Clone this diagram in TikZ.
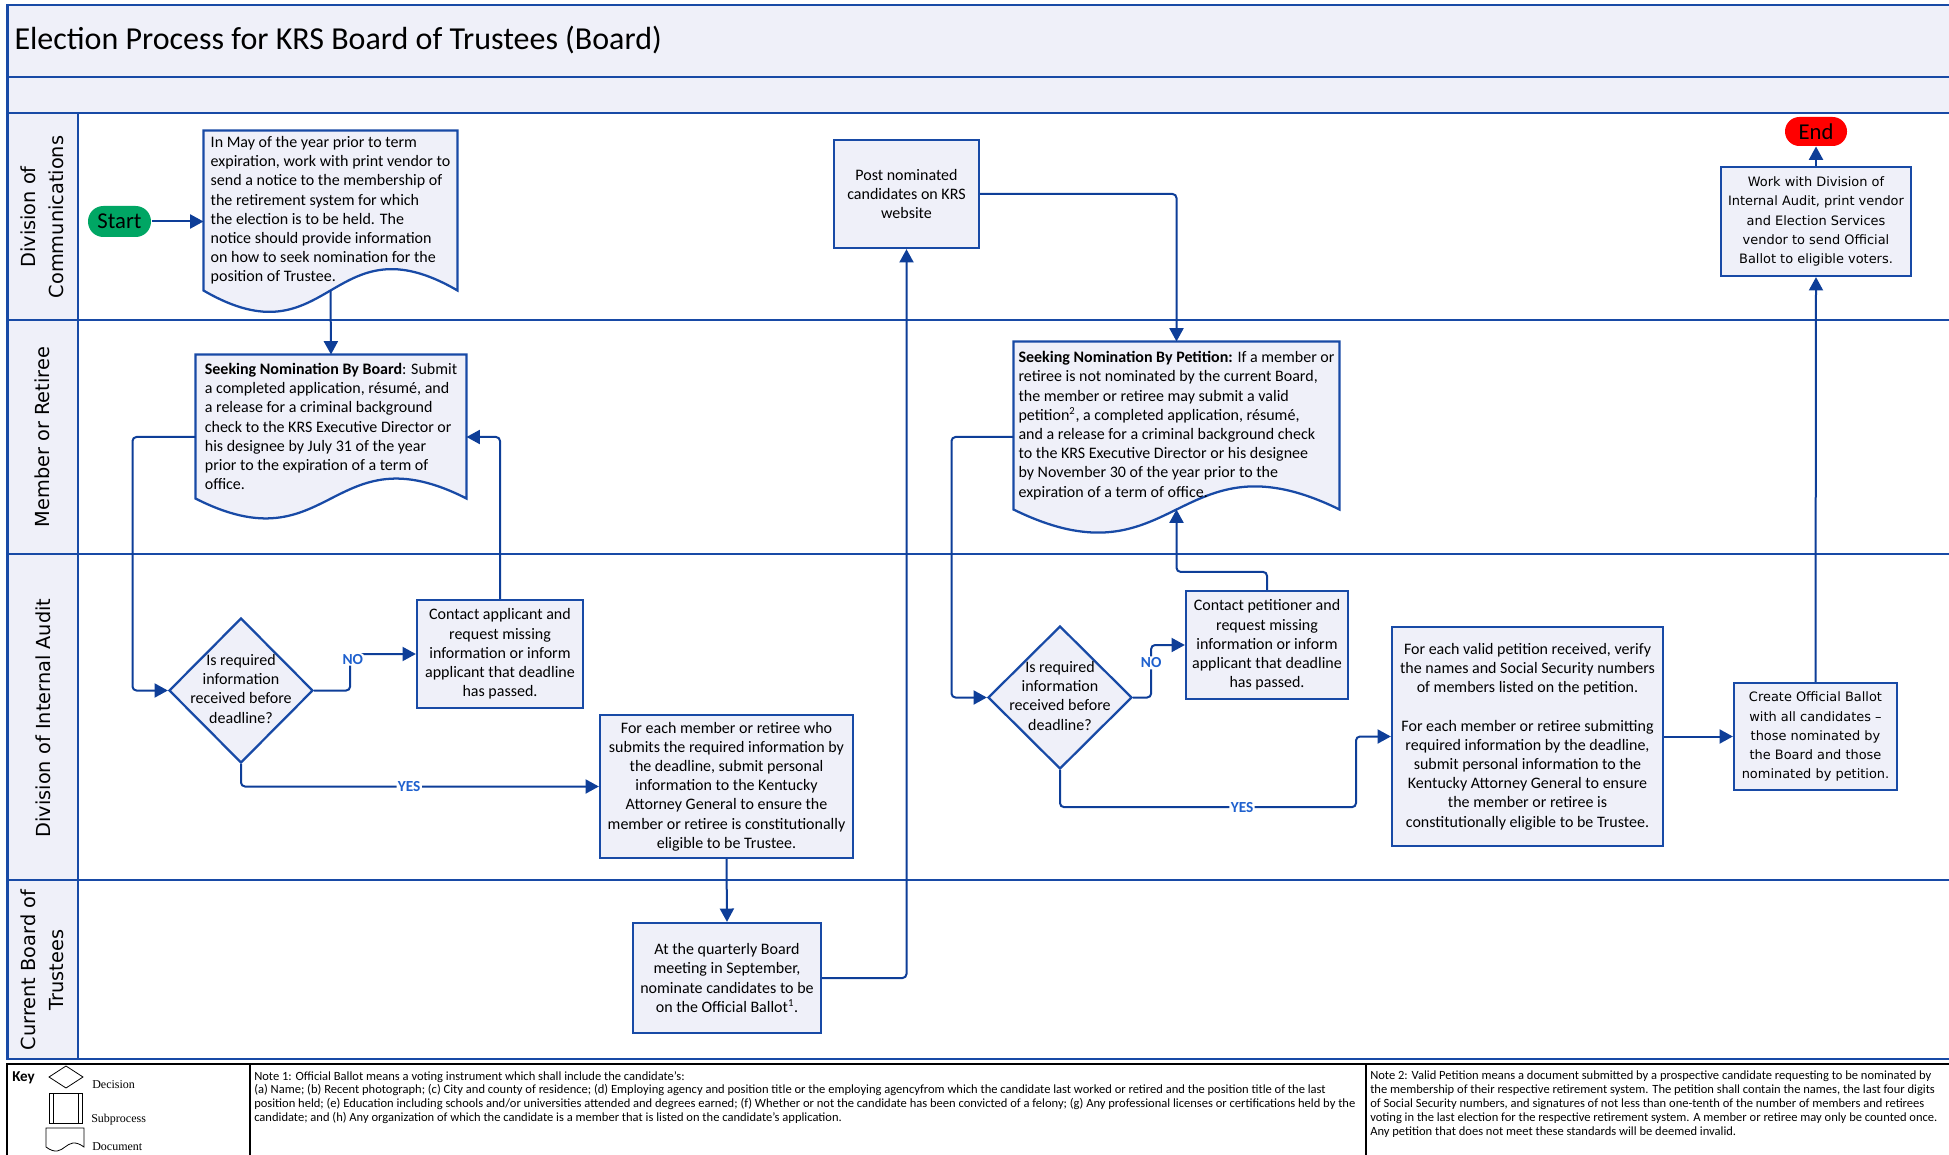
\documentclass[tikz,border=0pt]{standalone}
\usepackage{fontspec}
\setmainfont{Carlito}
\newfontfamily\verdanafont{DejaVu Sans}
\newfontfamily\keyfont{Liberation Serif}
\usetikzlibrary{arrows.meta,shapes.geometric,calc,backgrounds}

\definecolor{laneblue}{RGB}{24,74,166}
\definecolor{flowblue}{RGB}{14,62,152}
\definecolor{boxfill}{RGB}{239,240,249}
\definecolor{startgreen}{RGB}{0,166,100}
\definecolor{labelblue}{RGB}{30,96,206}

\newcommand{\bodyfont}{\fontsize{12}{14.4}\selectfont}
\newcommand{\decisiontext}[1]{\smash{\raisebox{-3pt}{\makebox[0pt]{\begin{tabular}{@{}c@{}}#1\end{tabular}}}}}
\newcommand{\docoutline}[2]{%
  \begin{pgfonlayer}{background}
  \draw[docline] (#1.north west) -- (#1.north east) -- (#1.south east) .. controls ($(#1.south)+(0,-#2)$) and ($(#1.south)+(0,#2)$) .. (#1.south west) -- cycle;
  \end{pgfonlayer}}

\tikzset{every picture/.style={line width=0.75pt}}
\tikzset{
  lane/.style={draw=laneblue, line width=2pt},
  process/.style={rectangle, draw=laneblue, line width=1.7pt, fill=boxfill, inner sep=2pt, align=center, font=\bodyfont},
  vprocess/.style={process, font=\verdanafont\fontsize{9.7}{14.3}\selectfont},
  docbox/.style={rectangle, inner sep=2pt, align=left, font=\bodyfont},
  docline/.style={draw=laneblue, line width=1.7pt, fill=boxfill},
  decision/.style={diamond, draw=laneblue, line width=1.7pt, fill=boxfill, inner sep=0pt, font=\bodyfont},
  terminal/.style={rectangle, inner sep=0pt, font=\fontsize{17}{20}\selectfont},
  conn/.style={draw=flowblue, line width=1.5pt, rounded corners=3pt, -{Triangle[length=10pt,width=10.5pt]}},
  answer/.style={fill=white, inner sep=1pt, text=labelblue, font=\fontsize{11.5}{13}\selectfont\bfseries},
  lanelabel/.style={rotate=90, align=center, font=\verdanafont\fontsize{14.5}{21}\selectfont},
  notetext/.style={anchor=north west, inner sep=0pt, align=left, font=\fontsize{9.4}{10.4}\selectfont},
  keylabel/.style={anchor=west, inner sep=0pt, font=\keyfont\fontsize{9}{11}\selectfont}
}

\begin{document}
\begin{tikzpicture}[x=0.75pt,y=0.75pt,yscale=-1,xscale=1]
\useasboundingbox (0,0) rectangle (1949,1155);

%Shape: Rectangle (title bands)
\fill[boxfill] (7.5,5) rectangle (1949,113);
%Shape: Rectangle (lane heads)
\fill[boxfill] (7.5,113) rectangle (78,1059);
%Straight Lines
\draw[lane] (1949,5) -- (7.5,5) -- (7.5,1059) -- (1949,1059);
\draw[lane] (7.5,77) -- (1949,77);
\draw[lane] (7.5,113) -- (1949,113);
\draw[lane] (7.5,320) -- (1949,320);
\draw[lane] (7.5,554) -- (1949,554);
\draw[lane] (7.5,880) -- (1949,880);
\draw[lane] (78,113) -- (78,1059);
%Straight Lines (key frame)
\draw[line width=2.2pt] (7,1160) -- (7,1064) -- (1949,1064);
\draw[line width=2.2pt] (250,1064) -- (250,1160);
\draw[line width=2.2pt] (1366,1064) -- (1366,1160);

% Text Node
\node[anchor=base west, inner sep=0pt, font=\fontsize{24}{28}\selectfont] (title) at (14,50) {Election Process for KRS Board of Trustees (Board)};
% Text Node
\node[lanelabel] (lab1) at (42,217) {Division of\\Communications};
\node[lanelabel] (lab2) at (42,437) {Member or Retiree};
\node[lanelabel] (lab3) at (43,718) {Division of Internal Audit};
\node[lanelabel] (lab4) at (42,970) {Current Board of\\Trustees};

%Shape: Terminals
\node[terminal, fill=startgreen, minimum width=47.25pt, minimum height=23.25pt, rounded corners=11.5pt] (start) at (119.5,221.5) {Start};
\node[terminal, fill=red, minimum width=46.5pt, minimum height=21.75pt, rounded corners=10.8pt] (stop) at (1816,131.5) {End};

%Shape: Documents
\node[docbox, minimum width=189.75pt, minimum height=119.25pt] (d1) at (330.5,210.5) {In May of the year prior to term\\expiration, work with print vendor to\\send a notice to the membership of\\the retirement system for which\\the election is to be held. The\\notice should provide information\\on how to seek nomination for the\\position of Trustee.};
\node[docbox, minimum width=202.5pt, minimum height=107.25pt] (d2) at (331,426.5) {\textbf{Seeking Nomination By Board}: Submit\\a completed application, résumé, and\\a release for a criminal background\\check to the KRS Executive Director or\\his designee by July 31 of the year\\prior to the expiration of a term of\\office.};
\node[docbox, minimum width=243.75pt, minimum height=125.25pt] (d3) at (1176.5,425.5) {\textbf{Seeking Nomination By Petition:} If a member or\\retiree is not nominated by the current Board,\\the member or retiree may submit a valid\\petition\textsuperscript{2}, a completed application, résumé,\\and a release for a criminal background check\\to the KRS Executive Director or his designee\\by November 30 of the year prior to the\\expiration of a term of office.};
\docoutline{d1}{74}
\docoutline{d2}{69}
\docoutline{d3}{80}

%Shape: Rectangle
\node[process, minimum width=108.75pt, minimum height=81pt] (post) at (906.5,194) {Post nominated\\candidates on KRS\\website};
\node[vprocess, minimum width=142.5pt, minimum height=81.75pt] (work) at (1816,221.5) {Work with Division of\\Internal Audit, print vendor\\and Election Services\\vendor to send Official\\Ballot to eligible voters.};
\node[process, minimum width=124.5pt, minimum height=81pt] (contact1) at (500,654) {Contact applicant and\\request missing\\information or inform\\applicant that deadline\\has passed.};
\node[process, minimum width=189.75pt, minimum height=107.25pt] (ag1) at (726.5,786.5) {For each member or retiree who\\submits the required information by\\the deadline, submit personal\\information to the Kentucky\\Attorney General to ensure the\\member or retiree is constitutionally\\eligible to be Trustee.};
\node[process, minimum width=141pt, minimum height=82.5pt] (board) at (727,978) {At the quarterly Board\\meeting in September,\\nominate candidates to be\\on the Official Ballot\textsuperscript{1}.};
\node[process, minimum width=121.5pt, minimum height=81pt] (contact2) at (1267,645) {Contact petitioner and\\request missing\\information or inform\\applicant that deadline\\has passed.};
\node[process, minimum width=203.25pt, minimum height=164.25pt] (verify) at (1527.5,736.5) {For each valid petition received, verify\\the names and Social Security numbers\\of members listed on the petition.\\[14.4pt]For each member or retiree submitting\\required information by the deadline,\\submit personal information to the\\Kentucky Attorney General to ensure\\the member or retiree is\\constitutionally eligible to be Trustee.};
\node[vprocess, minimum width=122.25pt, minimum height=80.25pt] (create) at (1815.5,736.5) {Create Official Ballot\\with all candidates –\\those nominated by\\the Board and those\\nominated by petition.};

%Shape: Diamond
\node[decision, minimum width=108pt, minimum height=108.75pt] (q1) at (241,690.5) {\decisiontext{Is required\\information\\received before\\deadline?}};
\node[decision, minimum width=108pt, minimum height=107.25pt] (q2) at (1060,697.5) {\decisiontext{Is required\\information\\received before\\deadline?}};

%Straight Lines (connectors)
\draw[conn] (start.east) -- (start.east -| d1.west);
\draw[conn] (d1.south) -- (d2.north);
\draw[conn] ($(d2.west)+(0,10.5)$) -- ++(-63,0) |- (q1.west);
\draw[conn] (q1.east) -- ++(36,0) |- node[answer, pos=0.5, xshift=2pt, yshift=-4pt] (no1) {NO} (contact1.west);
\draw[conn] (contact1.north) |- ($(d2.east)+(0,10.5)$);
\draw[conn] (q1.south) |- node[answer, pos=0.735] (yes1) {YES} (ag1.west);
\draw[conn] (ag1.south) -- (board.north);
\draw[conn] (board.east) -| (post.south);
\draw[conn] (post.east) -| (d3.north);
\draw[conn] ($(d3.west)+(0,11.5)$) -- ++(-62,0) |- (q2.west);
\draw[conn] (q2.east) -- ++(18,0) |- node[answer, pos=0.33] (no2) {NO} (contact2.west);
\draw[conn] (contact2.north) -- ++(0,-18) -| (d3.south);
\draw[conn] (q2.south) -- ++(0,37) -- ++(296,0) node[answer, pos=0.615] (yes2) {YES} |- (verify.west);
\draw[conn] (verify.east) -- (create.west);
\draw[conn] (create.north) -- (work.south);
\draw[conn] (work.north) -- (stop.south);

% Text Node (key)
\node[anchor=west, inner sep=0pt, font=\fontsize{11.3}{13}\selectfont\bfseries] (keyhead) at (12,1078) {Key};
%Shape: Diamond (key)
\draw[line width=0.6pt] (49,1077) -- (66,1066) -- (83,1077) -- (66,1088) -- cycle;
%Shape: Rectangle (key)
\draw[line width=0.6pt] (49,1093) rectangle (82,1123);
\draw[line width=0.6pt] (53,1093) -- (53,1123);
\draw[line width=0.6pt] (78,1093) -- (78,1123);
%Shape: Document (key)
\draw[line width=0.6pt] (46,1128) -- (84,1128) -- (84,1147) .. controls (65,1133) and (65,1161) .. (46,1147) -- cycle;
\node[keylabel] (keydec) at (92,1085) {Decision};
\node[keylabel] (keysub) at (91,1120) {Subprocess};
\node[keylabel] (keydoc) at (92,1147) {Document};

% Text Node (notes)
\node[notetext] (note1) at (254,1071) {Note 1: Official Ballot means a voting instrument which shall include the candidate's:\\(a) Name; (b) Recent photograph; (c) City and county of residence; (d) Employing agency and position title or the employing agencyfrom which the candidate last worked or retired and the position title of the last\\position held; (e) Education including schools and/or universities attended and degrees earned; (f) Whether or not the candidate has been convicted of a felony; (g) Any professional licenses or certifications held by the\\candidate; and (h) Any organization of which the candidate is a member that is listed on the candidate's application.};
\node[notetext] (note2) at (1370,1071) {Note 2: Valid Petition means a document submitted by a prospective candidate requesting to be nominated by\\the membership of their respective retirement system. The petition shall contain the names, the last four digits\\of Social Security numbers, and signatures of not less than one-tenth of the number of members and retirees\\voting in the last election for the respective retirement system. A member or retiree may only be counted once.\\Any petition that does not meet these standards will be deemed invalid.};

\end{tikzpicture}
\end{document}
